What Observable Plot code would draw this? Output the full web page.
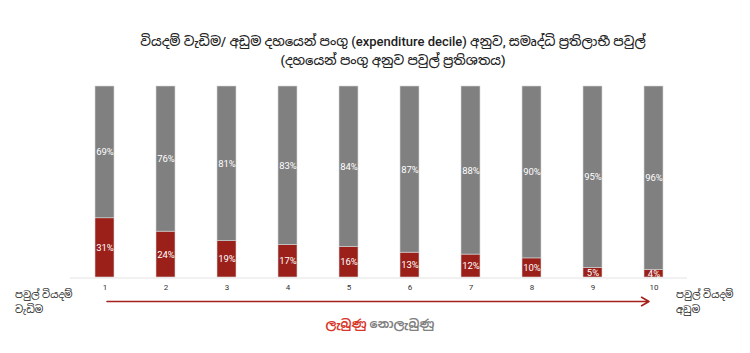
<!DOCTYPE html>
<html><head><meta charset="utf-8">
<script src="https://cdn.jsdelivr.net/npm/d3@7"></script>
<script src="https://cdn.jsdelivr.net/npm/@observablehq/plot@0.6"></script>
<style>
body{margin:0;background:#fff;font-family:Roboto,"Noto Sans Sinhala","Noto Sans",sans-serif;}
#wrap{position:relative;width:750px;height:353px;overflow:hidden;}
#title{position:absolute;left:0;top:32px;width:786px;text-align:center;font-size:13px;font-weight:500;color:#222;line-height:19px;}
#legend{position:absolute;left:0;top:316px;width:760px;text-align:center;font-size:12px;font-weight:bold;}
#chart{position:absolute;left:0;top:0;}
</style></head>
<body><div id="wrap">
<div id="chart"></div>
<div id="title"></div>
<div id="legend"></div>
</div>
<script>
const deciles = ["1","2","3","4","5","6","7","8","9","10"];
const received = [31,24,19,17,16,13,12,10,5,4];
const notReceived = [69,76,81,83,84,87,88,90,95,96];
const statusLabels = ["ලැබුණු","නොලැබුණු"];
const statusColors = ["#9b2019","#808080"];
const titleLines = ["වියදම් වැඩිම/ අඩුම දහයෙන් පංගු (expenditure decile) අනුව, සමෘද්ධි ප්‍රතිලාභී පවුල්","(දහයෙන් පංගු අනුව පවුල් ප්‍රතිශතය)"];
const leftLabel = ["පවුල් වියදම්","වැඩිම"];
const rightLabel = ["පවුල් වියදම්","අඩුම"];

document.getElementById("title").innerHTML = titleLines.join("<br>");
document.getElementById("legend").innerHTML =
  `<span style="color:#d8352a">${statusLabels[0]}</span> <span style="color:#808080">${statusLabels[1]}</span>`;

const rows = [];
deciles.forEach((d,i)=>{
  rows.push({decile:d, status:statusLabels[0], value:received[i]});
  rows.push({decile:d, status:statusLabels[1], value:notReceived[i]});
});
const ends = [
  {decile:deciles[0], label:leftLabel.join("\n")},
  {decile:deciles[deciles.length-1], label:rightLabel.join("\n")}
];

const chart = Plot.plot({
  width:750, height:353,
  marginTop:86, marginBottom:76, marginLeft:70, marginRight:63,
  style:{fontFamily:'Roboto,"Noto Sans Sinhala",sans-serif', background:"transparent", overflow:"visible"},
  x:{type:"band", domain:deciles, paddingInner:0.69, paddingOuter:0.355, align:0.5, label:null, tickSize:0, tickPadding:7},
  y:{domain:[0,100], axis:null},
  color:{domain:statusLabels, range:statusColors},
  marks:[
    Plot.ruleY([0],{stroke:"#e3e3e3", strokeWidth:1, dy:0.5}),
    Plot.rectY(rows, Plot.stackY({x:"decile", y:"value", fill:"status", stroke:"#d6d6d6", strokeWidth:0.6})),
    Plot.text(rows, Plot.stackY({x:"decile", y:"value", z:"status", text:d=>d.value+"%", fill:"white", fontSize:9.5, fontWeight:d=>d.status===statusLabels[0]?"bold":"normal"})),
    Plot.axisX({tickSize:0, tickPadding:7, fontSize:8, fill:"#333", label:null}),
    Plot.arrow([{a:deciles[0], b:deciles[deciles.length-1]}], {x1:"a", x2:"b", y1:0, y2:0, dy:24, stroke:"#a3221c", strokeWidth:1.6, headLength:8, insetStart:2, insetEnd:5, bend:0}),
    Plot.text(ends.slice(0,1), {x:"decile", y:()=>0, text:"label", dx:-90, dy:23, textAnchor:"start", lineAnchor:"middle", lineHeight:1.5, fontSize:10, fill:"#222"}),
    Plot.text(ends.slice(1), {x:"decile", y:()=>0, text:"label", dx:22, dy:23, textAnchor:"start", lineAnchor:"middle", lineHeight:1.5, fontSize:10, fill:"#222"})
  ]
});
document.getElementById("chart").appendChild(chart);
</script>
</body></html>
